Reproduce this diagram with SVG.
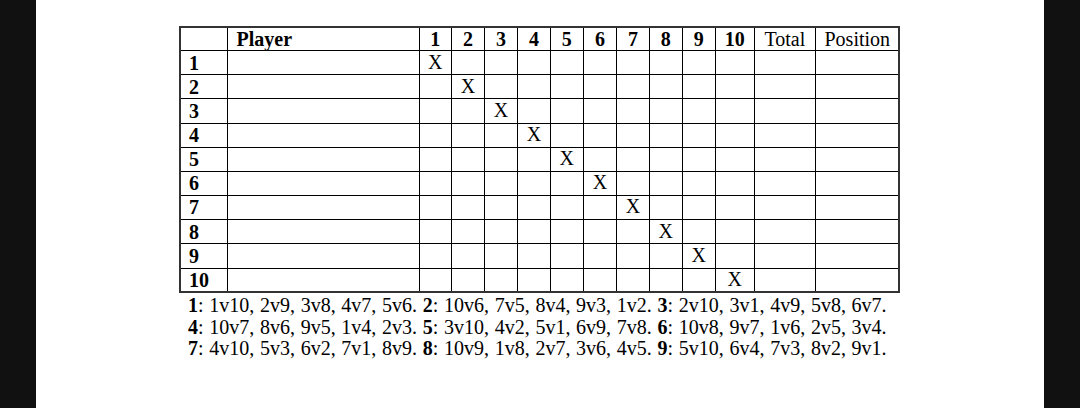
<svg xmlns="http://www.w3.org/2000/svg" width="1080" height="408" viewBox="0 0 1080 408">
<style>
.bar{fill:#111}
.grid line{stroke:#000;stroke-width:1}
.outer{fill:none;stroke:#333;stroke-width:2}
text{font-family:"Liberation Serif","Times New Roman",serif;font-size:20px;fill:#000}
.b{font-weight:bold}
.c{text-anchor:middle}
.foot{word-spacing:0.7px}
</style>
<rect width="1080" height="408" fill="#fff"/>
<rect class="bar" x="0" y="0" width="36" height="408"/>
<rect class="bar" x="1044" y="0" width="36" height="408"/>
<g id="grid" class="grid" shape-rendering="crispEdges">
<line x1="227.7" y1="26.7" x2="227.7" y2="291.7"/>
<line x1="419" y1="26.7" x2="419" y2="291.7"/>
<line x1="451.7" y1="26.7" x2="451.7" y2="291.7"/>
<line x1="484.3" y1="26.7" x2="484.3" y2="291.7"/>
<line x1="517.7" y1="26.7" x2="517.7" y2="291.7"/>
<line x1="550.2" y1="26.7" x2="550.2" y2="291.7"/>
<line x1="583.3" y1="26.7" x2="583.3" y2="291.7"/>
<line x1="616.7" y1="26.7" x2="616.7" y2="291.7"/>
<line x1="649.3" y1="26.7" x2="649.3" y2="291.7"/>
<line x1="682.3" y1="26.7" x2="682.3" y2="291.7"/>
<line x1="715.3" y1="26.7" x2="715.3" y2="291.7"/>
<line x1="754.3" y1="26.7" x2="754.3" y2="291.7"/>
<line x1="815.3" y1="26.7" x2="815.3" y2="291.7"/>
<line x1="179.7" y1="50.7" x2="899.3" y2="50.7"/>
<line x1="179.7" y1="74.8" x2="899.3" y2="74.8"/>
<line x1="179.7" y1="98.9" x2="899.3" y2="98.9"/>
<line x1="179.7" y1="123" x2="899.3" y2="123"/>
<line x1="179.7" y1="147.1" x2="899.3" y2="147.1"/>
<line x1="179.7" y1="171.2" x2="899.3" y2="171.2"/>
<line x1="179.7" y1="195.3" x2="899.3" y2="195.3"/>
<line x1="179.7" y1="219.4" x2="899.3" y2="219.4"/>
<line x1="179.7" y1="243.8" x2="899.3" y2="243.8"/>
<line x1="179.7" y1="268.1" x2="899.3" y2="268.1"/>
<rect class="outer" x="179.7" y="26.7" width="719.6" height="265"/>
</g>
<g id="header">
<text class="b" x="236.5" y="45.7">Player</text>
<text class="b c" x="435.3" y="45.7">1</text>
<text class="b c" x="468" y="45.7">2</text>
<text class="b c" x="501" y="45.7">3</text>
<text class="b c" x="534" y="45.7">4</text>
<text class="b c" x="566.8" y="45.7">5</text>
<text class="b c" x="600" y="45.7">6</text>
<text class="b c" x="633" y="45.7">7</text>
<text class="b c" x="665.8" y="45.7">8</text>
<text class="b c" x="698.8" y="45.7">9</text>
<text class="b c" x="734.8" y="45.7">10</text>
<text class="c" x="784.8" y="45.7">Total</text>
<text class="c" x="857.3" y="45.7">Position</text>
</g>
<g id="rownums">
<text class="b" x="189" y="69.8">1</text>
<text class="b" x="189" y="93.9">2</text>
<text class="b" x="189" y="118">3</text>
<text class="b" x="189" y="142.1">4</text>
<text class="b" x="189" y="166.2">5</text>
<text class="b" x="189" y="190.3">6</text>
<text class="b" x="189" y="214.4">7</text>
<text class="b" x="189" y="238.6">8</text>
<text class="b" x="189" y="262.8">9</text>
<text class="b" x="189" y="286.7">10</text>
</g>
<g id="marks">
<text class="c" x="435.3" y="68.8">X</text>
<text class="c" x="468" y="92.9">X</text>
<text class="c" x="501" y="117">X</text>
<text class="c" x="534" y="141.1">X</text>
<text class="c" x="566.8" y="165.2">X</text>
<text class="c" x="600" y="189.3">X</text>
<text class="c" x="633" y="213.4">X</text>
<text class="c" x="665.8" y="237.6">X</text>
<text class="c" x="698.8" y="261.8">X</text>
<text class="c" x="734.8" y="285.7">X</text>
</g>
<g id="footer">
<text class="foot" x="188" y="312"><tspan class="b">1</tspan>: 1v10, 2v9, 3v8, 4v7, 5v6. <tspan class="b">2</tspan>: 10v6, 7v5, 8v4, 9v3, 1v2. <tspan class="b">3</tspan>: 2v10, 3v1, 4v9, 5v8, 6v7.</text>
<text class="foot" x="188" y="333.5"><tspan class="b">4</tspan>: 10v7, 8v6, 9v5, 1v4, 2v3. <tspan class="b">5</tspan>: 3v10, 4v2, 5v1, 6v9, 7v8. <tspan class="b">6</tspan>: 10v8, 9v7, 1v6, 2v5, 3v4.</text>
<text class="foot" x="188" y="354.5"><tspan class="b">7</tspan>: 4v10, 5v3, 6v2, 7v1, 8v9. <tspan class="b">8</tspan>: 10v9, 1v8, 2v7, 3v6, 4v5. <tspan class="b">9</tspan>: 5v10, 6v4, 7v3, 8v2, 9v1.</text>
</g>
</svg>
